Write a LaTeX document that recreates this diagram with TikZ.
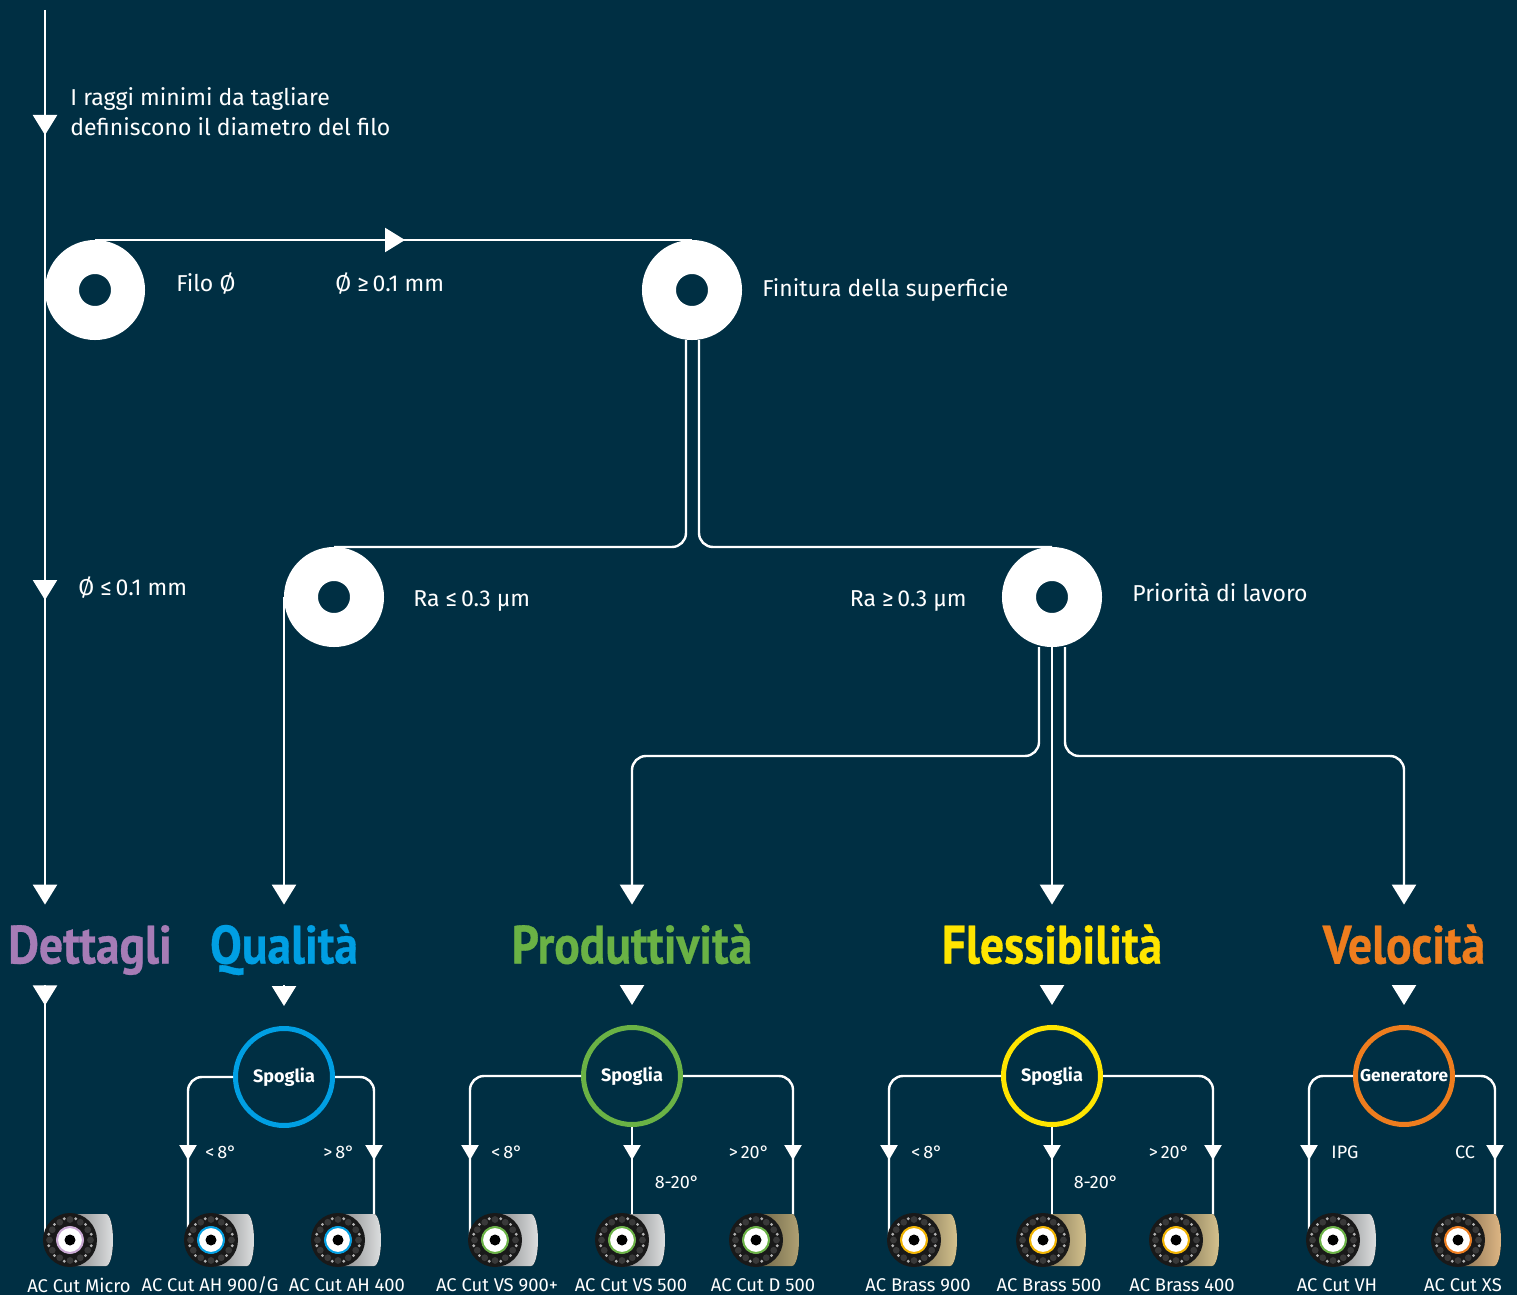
\documentclass[tikz,border=0pt]{standalone}
\usepackage{fontspec}
\setmainfont{Fira Sans}
\newfontfamily\headfont[FakeStretch=0.88, FakeBold=0.6]{PT Sans}
\usetikzlibrary{positioning,calc,arrows.meta,decorations.markings}

\definecolor{bgblue}{HTML}{002F43}
\definecolor{dettcol}{HTML}{A67CB6}
\definecolor{qualcol}{HTML}{009FE3}
\definecolor{prodcol}{HTML}{6AB245}
\definecolor{flescol}{HTML}{FFE500}
\definecolor{velocol}{HTML}{EE7D1E}
\definecolor{microring}{HTML}{C9A8D3}
\definecolor{brassring}{HTML}{F2B400}
\definecolor{silverdrum}{HTML}{DCDEDF}
\definecolor{brassdrum}{HTML}{D4C18D}
\definecolor{khakidrum}{HTML}{AFA173}
\definecolor{copperdrum}{HTML}{DDB684}

\tikzset{
  bigtri/.tip={Triangle[width=12pt,length=10pt]},
  smalltri/.tip={Triangle[width=8.5pt,length=7.5pt]},
  pics/spool/.style 2 args={code={
    % drum behind the flange
    \fill[left color=#2!60!black, right color=#2]
      (0,-26) -- (36,-26) arc[start angle=-90, end angle=90, x radius=7, y radius=26]
      -- (0,26) -- cycle;
    \fill[black!90] (0,0) circle[radius=27];
    \foreach \a in {0,30,...,330}
      \fill[gray!45!black] (\a:20.5) circle[radius=3.4];
    \foreach \a in {15,45,...,345}
      \fill[gray!60] (\a:22) circle[radius=1.6];
    \fill[white] (0,0) circle[radius=13.5];
    \draw[#1, line width=1pt] (0,0) circle[radius=13];
    \fill[black] (0,0) circle[radius=5.5];
  }}
}

\begin{document}
\begin{tikzpicture}
  [ x=0.5pt, y=-0.5pt,
    every node/.style = {text=white, inner sep=0pt},
    link/.style = {draw=white, line width=1.2pt, rounded corners=7pt},
    donut node/.style = {circle, draw=white, line width=17pt, minimum size=33pt},
    choice node/.style = {circle, draw=#1, line width=2.5pt, minimum size=48.5pt,
                          font=\bfseries\fontsize{9}{10}\selectfont},
    heading node/.style = {text=#1, font=\headfont\bfseries\fontsize{27}{30}\selectfont,
                           text height=18.5pt, text depth=0pt, minimum height=40pt},
    info/.style = {font=\fontsize{11.5}{15}\selectfont, anchor=west, align=left},
    branch label/.style = {font=\fontsize{9}{10}\selectfont},
    wire label/.style = {font=\fontsize{9.2}{11}\selectfont},
    big tip at/.style = {postaction={decorate}, decoration={markings,
                         mark=at position #1 with {\arrow{bigtri}}}},
    small tip at/.style = {postaction={decorate}, decoration={markings,
                           mark=at position #1 with {\arrow{smalltri}}}} ]

  \fill[bgblue] (0,0) rectangle (1517,1295);
  \useasboundingbox (0,0) rectangle (1517,1295);

  \coordinate (start) at (45,10);
  \coordinate (rail) at (0,756);
  % spool positions
  \coordinate (s-micro) at (70,1240);
  \coordinate (s-ah900) at (211,1240);
  \coordinate (s-ah400) at (338,1240);
  \coordinate (s-vs900) at (495,1240);
  \coordinate (s-vs500) at (622,1240);
  \coordinate (s-d500) at (756,1240);
  \coordinate (s-b900) at (914,1240);
  \coordinate (s-b500) at (1043,1240);
  \coordinate (s-b400) at (1176,1240);
  \coordinate (s-vh) at (1333,1240);
  \coordinate (s-xs) at (1458,1240);

  % decision points
  \node[donut node] (filo) at (95,290) {};
  \node[donut node] (fin) at (692,290) {};
  \node[donut node] (rlow) at (334,597) {};
  \node[donut node] (prio) at (1052,597) {};

  \node[info] (raggi) at (70,112) {I raggi minimi da tagliare\\definiscono il diametro del filo};
  \node[info, right=15.5pt of filo, yshift=3pt] (filo-lab) {Filo Ø};
  \node[info] (thick) at (335,284) {Ø ≥\,0.1 mm};
  \node[info] (thin) at (78,588) {Ø ≤\,0.1 mm};
  \node[info, right=10pt of fin] (fin-lab) {Finitura della superficie};
  \node[info] (ralow) at (413,601) {Ra ≤\,0.3 µm};
  \node[info, anchor=east] (rahigh) at (967,601) {Ra ≥\,0.3 µm};
  \node[info, right=15pt of prio, yshift=2.5pt] (prio-lab) {Priorità di lavoro};

  % headings
  \node[heading node=dettcol] (dett) at (90,945) {Dettagli};
  \node[heading node=qualcol] (qual) at (284,945) {Qualità};
  \node[heading node=prodcol] (prod) at (632,945) {Produttività};
  \node[heading node=flescol] (fless) at (1052,945) {Flessibilità};
  \node[heading node=velocol] (velo) at (1404,945) {Velocità};

  \node[choice node=qualcol] (qsp) at (284,1077) {Spoglia};
  \node[choice node=prodcol] (psp) at (632,1076) {Spoglia};
  \node[choice node=flescol] (fsp) at (1052,1076) {Spoglia};
  \node[choice node=velocol, font=\bfseries\fontsize{8.6}{10}\selectfont] (gen) at (1404,1076) {Generatore};

  % main connectors
  \draw[link, -bigtri, postaction={decorate}, decoration={markings,
        mark=at position 62.5pt with {\arrow{bigtri}},
        mark=at position 295pt with {\arrow{bigtri}}}]
    (start) -- (start |- dett.north);
  \draw[link, big tip at=155pt] (filo.north) -- (fin.north);
  \draw[link] ($(fin.south)+(-6,0)$) |- (rlow.north);
  \draw[link] ($(fin.south)+(7,0)$) |- (prio.north);
  \draw[link, -bigtri] (rlow.west) -- (rlow.west |- qual.north);
  \draw[link, -bigtri] ($(prio.south)+(-13,0)$) |- (rail -| prod.north) -- (prod.north);
  \draw[link, -bigtri] (prio.south) -- (fless.north);
  \draw[link, -bigtri] ($(prio.south)+(13,0)$) |- (rail -| velo.north) -- (velo.north);

  \foreach \h/\c in {qual/qsp, prod/psp, fless/fsp, velo/gen}
    \draw[link, -bigtri, shorten >=10pt] (\h.south) -- (\c.north);
  \draw[link, big tip at=10pt] (dett.south -| start) -- (start |- s-micro);

  % branches to the wires
  \foreach \c/\a/\s/\dx in {qsp/west/ah900/-23, qsp/east/ah400/36,
                            psp/west/vs900/-25, psp/east/d500/37,
                            fsp/west/b900/-25, fsp/east/b400/37,
                            gen/west/vh/-24, gen/east/xs/37}
    \draw[link, small tip at=-40pt] (\c.\a) -| ($(s-\s)+(\dx,0)$);
  \foreach \c/\s in {psp/vs500, fsp/b500}
    \draw[link, small tip at=-40pt] (\c.south) -- (\c.south |- s-\s);

  \node[branch label] (q1) at (221,1152) {<\,8°};
  \node[branch label] (q2) at (339,1152) {>\,8°};
  \node[branch label] (p1) at (507,1152) {<\,8°};
  \node[branch label] (p2) at (677,1182) {8-20°};
  \node[branch label] (p3) at (749,1152) {>\,20°};
  \node[branch label] (f1) at (927,1152) {<\,8°};
  \node[branch label] (f2) at (1096,1182) {8-20°};
  \node[branch label] (f3) at (1169,1152) {>\,20°};
  \node[branch label] (v1) at (1345,1152) {IPG};
  \node[branch label] (v2) at (1465,1152) {CC};

  % spools
  \pic at (s-micro) {spool={microring}{silverdrum}};
  \pic at (s-ah900) {spool={qualcol}{silverdrum}};
  \pic at (s-ah400) {spool={qualcol}{silverdrum}};
  \pic at (s-vs900) {spool={prodcol}{silverdrum}};
  \pic at (s-vs500) {spool={prodcol}{silverdrum}};
  \pic at (s-d500) {spool={prodcol}{khakidrum}};
  \pic at (s-b900) {spool={brassring}{brassdrum}};
  \pic at (s-b500) {spool={brassring}{brassdrum}};
  \pic at (s-b400) {spool={brassring}{brassdrum}};
  \pic at (s-vh) {spool={prodcol}{silverdrum}};
  \pic at (s-xs) {spool={velocol}{copperdrum}};

  \node[wire label] (l-micro) at (79,1285) {AC Cut Micro};
  \node[wire label] (l-ah900) at (210,1285) {AC Cut AH 900/G};
  \node[wire label] (l-ah400) at (347,1285) {AC Cut AH 400};
  \node[wire label] (l-vs900) at (497,1285) {AC Cut VS 900+};
  \node[wire label] (l-vs500) at (631,1285) {AC Cut VS 500};
  \node[wire label] (l-d500) at (763,1285) {AC Cut D 500};
  \node[wire label] (l-b900) at (918,1285) {AC Brass 900};
  \node[wire label] (l-b500) at (1049,1285) {AC Brass 500};
  \node[wire label] (l-b400) at (1182,1285) {AC Brass 400};
  \node[wire label] (l-vh) at (1337,1285) {AC Cut VH};
  \node[wire label] (l-xs) at (1463,1285) {AC Cut XS};
\end{tikzpicture}
\end{document}
